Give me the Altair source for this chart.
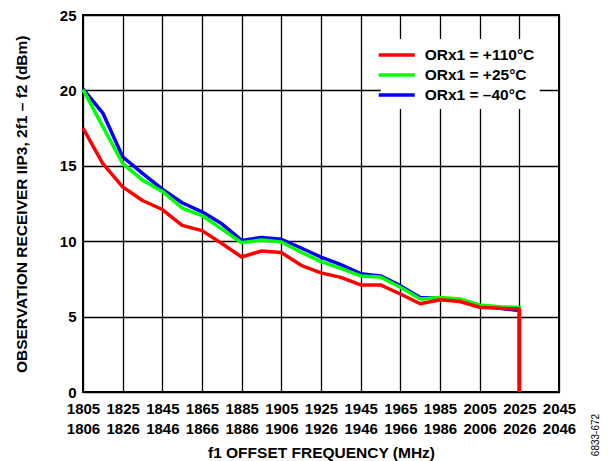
import altair as alt
import pandas as pd

# ---- data ----
freq = [1805, 1815, 1825, 1835, 1845, 1855, 1865, 1875, 1885, 1895, 1905, 1915,
        1925, 1935, 1945, 1955, 1965, 1975, 1985, 1995, 2005, 2015, 2025]
red_110 = [17.5, 15.15, 13.6, 12.7, 12.1, 11.05, 10.7, 9.85, 8.95, 9.35, 9.25, 8.4,
           7.9, 7.6, 7.1, 7.1, 6.5, 5.85, 6.12, 6.0, 5.62, 5.56, 5.5]
green_25 = [20.05, 17.6, 15.15, 14.05, 13.3, 12.2, 11.7, 10.8, 9.9, 10.08, 9.95, 9.27,
            8.65, 8.2, 7.7, 7.62, 6.95, 6.17, 6.27, 6.17, 5.77, 5.65, 5.6]
blue_m40 = [20.1, 18.5, 15.6, 14.5, 13.45, 12.55, 11.95, 11.15, 10.05, 10.25, 10.13, 9.55,
            8.95, 8.45, 7.85, 7.7, 7.05, 6.27, 6.22, 6.12, 5.72, 5.56, 5.4]
end_value = 0  # every trace drops to 0 at the last frequency

series = ["ORx1 = +110°C", "ORx1 = +25°C", "ORx1 = –40°C"]
colors = ["#FF0000", "#00FF00", "#0000FF"]

x_ticks = [1805, 1825, 1845, 1865, 1885, 1905, 1925, 1945, 1965, 1985, 2005, 2025, 2045]
y_ticks = [0, 5, 10, 15, 20, 25]

rows = []
for name, vals in [(series[2], blue_m40), (series[1], green_25), (series[0], red_110)]:
    for i, (f, v) in enumerate(zip(freq, vals)):
        rows.append({"series": name, "f": f, "v": v, "i": i})
    rows.append({"series": name, "f": freq[-1], "v": end_value, "i": len(freq)})
df = pd.DataFrame(rows)

FONT = "Liberation Sans"

lines = alt.Chart(df).mark_line(strokeWidth=3.5, strokeJoin="round").encode(
    x=alt.X("f:Q",
            scale=alt.Scale(domain=[1805, 2045], nice=False, zero=False),
            axis=alt.Axis(values=x_ticks, format="d",
                          labelExpr="[datum.label, toString(datum.value + 1)]",
                          labelLineHeight=20, labelPadding=9, ticks=False, domain=False,
                          labelFont=FONT, labelFontSize=15, labelFontWeight="bold",
                          labelColor="black", labelFlush=False, labelOverlap=False,
                          title="f1 OFFSET FREQUENCY (MHz)",
                          titleFont=FONT, titleFontSize=15.5, titleFontWeight="bold",
                          titleColor="black", titleBaseline="alphabetic", titleY=65,
                          grid=True, gridColor="black", gridWidth=1.3, gridOpacity=1)),
    y=alt.Y("v:Q",
            scale=alt.Scale(domain=[0, 25], nice=False),
            axis=alt.Axis(values=y_ticks, labelPadding=7, ticks=False, domain=False,
                          labelFont=FONT, labelFontSize=15, labelFontWeight="bold",
                          labelColor="black", labelFlush=False, labelOverlap=False,
                          title="OBSERVATION RECEIVER IIP3, 2f1 – f2 (dBm)",
                          titleFont=FONT, titleFontSize=15.5, titleFontWeight="bold",
                          titleColor="black", titleBaseline="alphabetic",
                          titleX=-56.6, titleY=188.8,
                          grid=True, gridColor="black", gridWidth=1.3, gridOpacity=1)),
    color=alt.Color("series:N",
                    scale=alt.Scale(domain=series, range=colors),
                    legend=alt.Legend(title=None, orient="none", legendX=297.7, legendY=24,
                                      fillColor="white", padding=5,
                                      symbolType="M-2,0H2", symbolSize=324,
                                      symbolStrokeWidth=3.5, labelOffset=17,
                                      labelFont=FONT, labelFontSize=15.5,
                                      labelFontWeight="bold", labelColor="black",
                                      rowPadding=-1)),
    order=alt.Order("i:Q"),
)

code = alt.Chart(pd.DataFrame({"t": ["6833-672"]})).mark_text(
    angle=270, align="center", baseline="middle", font=FONT, fontSize=10, color="black"
).encode(text="t:N", x=alt.value(513.2), y=alt.value(420))

chart = alt.layer(lines, code).properties(
    width=476, height=377,
    padding={"left": 75, "top": 7, "right": 43, "bottom": 69},
    autosize="none",
).configure_view(stroke="black", strokeWidth=2)

chart.save("out.html", embed_options={"renderer": "svg", "actions": False})
